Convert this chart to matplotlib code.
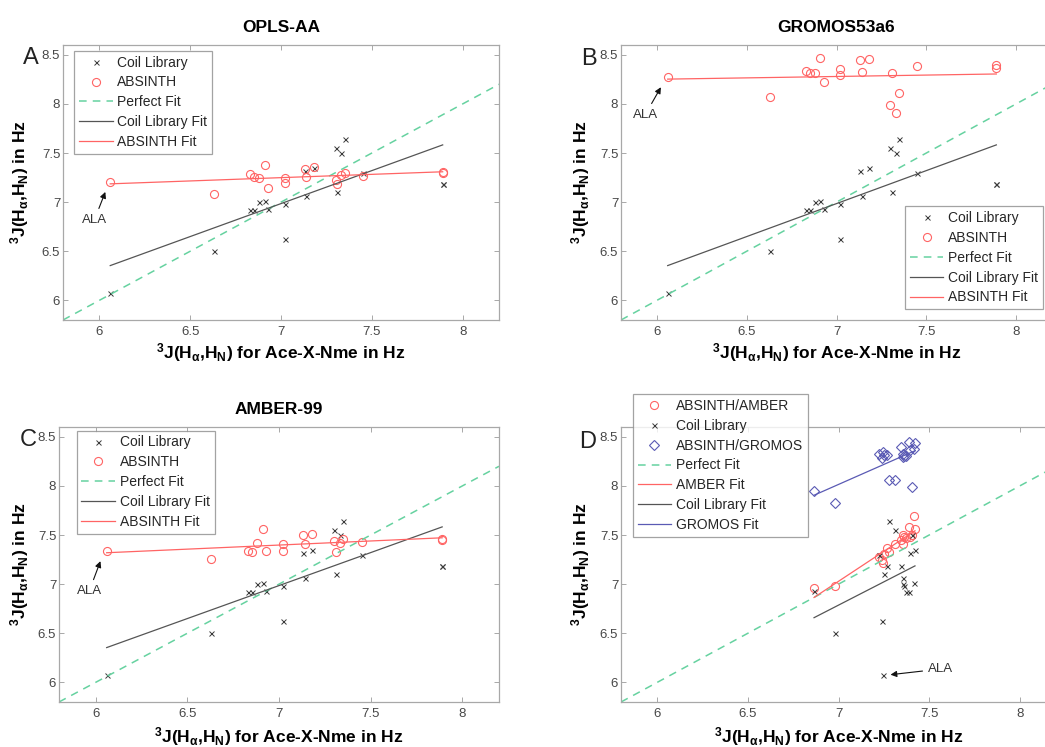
import numpy as np
import matplotlib
matplotlib.use("Agg")
import matplotlib.pyplot as plt

# =========================
# DATA
# =========================
# Ace-X-Nme reference couplings used in panels A-C
X_ACE = [6.06, 6.63, 6.83, 6.85, 6.88, 6.91, 6.93, 7.02, 7.02, 7.13,
         7.14, 7.18, 7.30, 7.31, 7.33, 7.35, 7.45, 7.89, 7.89]
COIL = [6.07, 6.50, 6.92, 6.92, 7.00, 7.01, 6.93, 6.98, 6.62, 7.32,
        7.06, 7.35, 7.55, 7.10, 7.50, 7.64, 7.30, 7.18, 7.18]
ABS_OPLS = [7.21, 7.08, 7.29, 7.26, 7.25, 7.38, 7.14, 7.25, 7.20, 7.335,
            7.26, 7.355, 7.225, 7.185, 7.28, 7.30, 7.27, 7.31, 7.30]
ABS_GROMOS = [8.27, 8.07, 8.34, 8.31, 8.32, 8.47, 8.22, 8.36, 8.29, 8.45,
              8.33, 8.46, 7.99, 8.31, 7.91, 8.11, 8.39, 8.40, 8.37]
ABS_AMBER = [7.34, 7.26, 7.34, 7.325, 7.42, 7.56, 7.34, 7.41, 7.335, 7.505,
             7.41, 7.515, 7.435, 7.33, 7.415, 7.455, 7.43, 7.46, 7.45]

# panel D
X_D = [7.245, 6.98, 7.375, 7.39, 7.357, 7.415, 6.865, 7.36, 7.24, 7.392,
       7.357, 7.422, 7.309, 7.25, 7.406, 7.278, 7.225, 7.27, 7.346]
AMBER_D = [7.22, 6.98, 7.47, 7.58, 7.50, 7.69, 6.96, 7.48, 7.25, 7.48,
           7.41, 7.56, 7.41, 7.31, 7.50, 7.33, 7.28, 7.37, 7.45]
GROMOS_D = [8.35, 7.83, 8.30, 8.45, 8.33, 8.38, 7.95, 8.30, 8.28, 8.37,
            8.29, 8.44, 8.06, 8.32, 7.99, 8.06, 8.33, 8.32, 8.40]

TITLES = ["OPLS-AA", "GROMOS53a6", "AMBER-99", ""]
LETTERS = ["A", "B", "C", "D"]
XTICKS = [6, 6.5, 7, 7.5, 8]
YTICKS = [6, 6.5, 7, 7.5, 8, 8.5]

# =========================
# STYLE
# =========================
plt.rcParams["font.family"] = ["Liberation Sans", "DejaVu Sans"]
plt.rcParams["mathtext.default"] = "regular"

W, H = 1045, 747
C_COIL = "#3a3a3a"
C_RED = "#ff6464"
C_BLUE = "#5a5ab4"
C_PERF = "#66d2a0"
C_SPINE = "#a8a8a8"

XLABEL = r"$^3$J(H$_\alpha$,H$_N$) for Ace-X-Nme in Hz"
YLABEL = r"$^3$J(H$_\alpha$,H$_N$) in Hz"


def px_axes(fig, left, right, top, bottom):
    return fig.add_axes([left / W, 1 - bottom / H, (right - left) / W, (bottom - top) / H])


def style_axes(ax, title):
    ax.set_xlim(5.8, 8.2)
    ax.set_ylim(5.8, 8.6)
    ax.set_xticks(XTICKS)
    ax.set_xticklabels(["6", "6.5", "7", "7.5", "8"])
    ax.set_yticks(YTICKS)
    ax.set_yticklabels(["6", "6.5", "7", "7.5", "8", "8.5"])
    ax.tick_params(direction="in", top=True, right=True, length=3.5, width=0.7,
                   colors=C_SPINE, labelcolor="#474747", labelsize=9.5)
    ax.tick_params(axis="y", pad=2)
    ax.tick_params(axis="x", pad=4)
    for s in ax.spines.values():
        s.set_color(C_SPINE)
        s.set_linewidth(0.9)
    ax.set_xlabel(XLABEL, fontsize=12.5, fontweight="bold")
    ax.set_ylabel(YLABEL, fontsize=12.5, fontweight="bold")
    if title:
        ax.set_title(title, fontsize=12.5, fontweight="bold", pad=9)


def fit_line(ax, x, y, color, label):
    x = np.asarray(x)
    p = np.polyfit(x, y, 1)
    xx = np.array([x.min(), x.max()])
    ax.plot(xx, np.polyval(p, xx), "-", color=color, lw=0.9, label=label)


def perfect(ax):
    ax.plot([5.8, 8.2], [5.8, 8.2], "--", color=C_PERF, lw=1.1, dashes=(5, 4),
            label="Perfect Fit")


def ala(ax, head, text, ha="center"):
    ax.annotate("ALA", xy=head, xytext=text, ha=ha, va="center", fontsize=9.5,
                color="#333333",
                arrowprops=dict(arrowstyle="-|>", color="#111111", lw=0.8,
                                mutation_scale=9, shrinkA=2, shrinkB=0))


def legend(ax, loc, anchor):
    leg = ax.legend(loc=loc, bbox_to_anchor=anchor, borderaxespad=0, fontsize=10,
                    frameon=True, fancybox=False, edgecolor="#8c8c8c",
                    handlelength=2.4, handletextpad=0.35, labelspacing=0.42,
                    borderpad=0.35, numpoints=1)
    leg.get_frame().set_linewidth(0.9)
    for t in leg.get_texts():
        t.set_color("#262626")
    return leg


def panel_abc(ax, absinth, title, loc, anchor, head, text):
    ax.plot(X_ACE, COIL, "x", color=C_COIL, ms=3.6, mew=0.7, ls="none",
            label="Coil Library")
    ax.plot(X_ACE, absinth, "o", mfc="none", mec=C_RED, ms=5.8, mew=0.8, ls="none",
            label="ABSINTH")
    perfect(ax)
    fit_line(ax, X_ACE, COIL, "#555555", "Coil Library Fit")
    fit_line(ax, X_ACE, absinth, C_RED, "ABSINTH Fit")
    style_axes(ax, title)
    legend(ax, loc, anchor)
    ala(ax, head, text)


# =========================
# FIGURE
# =========================
fig = plt.figure(figsize=(W / 100, H / 100), dpi=100)

ax_a = px_axes(fig, 63, 499, 45, 320)
ax_b = px_axes(fig, 621, 1052, 45, 320)
ax_c = px_axes(fig, 59, 499, 427, 702)
ax_d = px_axes(fig, 621, 1056, 427, 702)

panel_abc(ax_a, ABS_OPLS, TITLES[0], "upper left", (0.026, 0.979), (6.033, 7.104), (5.973, 6.82))
panel_abc(ax_b, ABS_GROMOS, TITLES[1], "lower right", (0.979, 0.039), (6.022, 8.17), (5.935, 7.89))
panel_abc(ax_c, ABS_AMBER, TITLES[2], "upper left", (0.040, 0.987), (6.026, 7.234), (5.965, 6.93))

# panel D
ax_d.plot(X_D, AMBER_D, "o", mfc="none", mec=C_RED, ms=5.8, mew=0.8, ls="none",
          label="ABSINTH/AMBER")
ax_d.plot(X_D, COIL, "x", color=C_COIL, ms=3.6, mew=0.7, ls="none", label="Coil Library")
ax_d.plot(X_D, GROMOS_D, "D", mfc="none", mec=C_BLUE, ms=5.0, mew=0.8, ls="none",
          label="ABSINTH/GROMOS")
perfect(ax_d)
fit_line(ax_d, X_D, AMBER_D, C_RED, "AMBER Fit")
fit_line(ax_d, X_D, COIL, "#555555", "Coil Library Fit")
fit_line(ax_d, X_D, GROMOS_D, C_BLUE, "GROMOS Fit")
style_axes(ax_d, TITLES[3])
legend(ax_d, "upper left", (0.027, 1.12))
ala(ax_d, (7.287, 6.078), (7.494, 6.136), ha="left")

for ax in (ax_a, ax_b):
    ax.xaxis.set_label_coords(0.5, -0.075)
for ax in (ax_c, ax_d):
    ax.xaxis.set_label_coords(0.5, -0.085)
ax_a.yaxis.set_label_coords(-0.073, 0.5)
ax_c.yaxis.set_label_coords(-0.064, 0.5)
ax_b.yaxis.set_label_coords(-0.067, 0.5)
ax_d.yaxis.set_label_coords(-0.067, 0.5)

# panel letters
for letter, (x, y) in zip(LETTERS, [(31, 58), (589, 59), (28, 440), (588, 442)]):
    fig.text(x / W, 1 - y / H, letter, fontsize=17, color="#222222",
             ha="center", va="center")

fig.savefig("out.png", dpi=100)
